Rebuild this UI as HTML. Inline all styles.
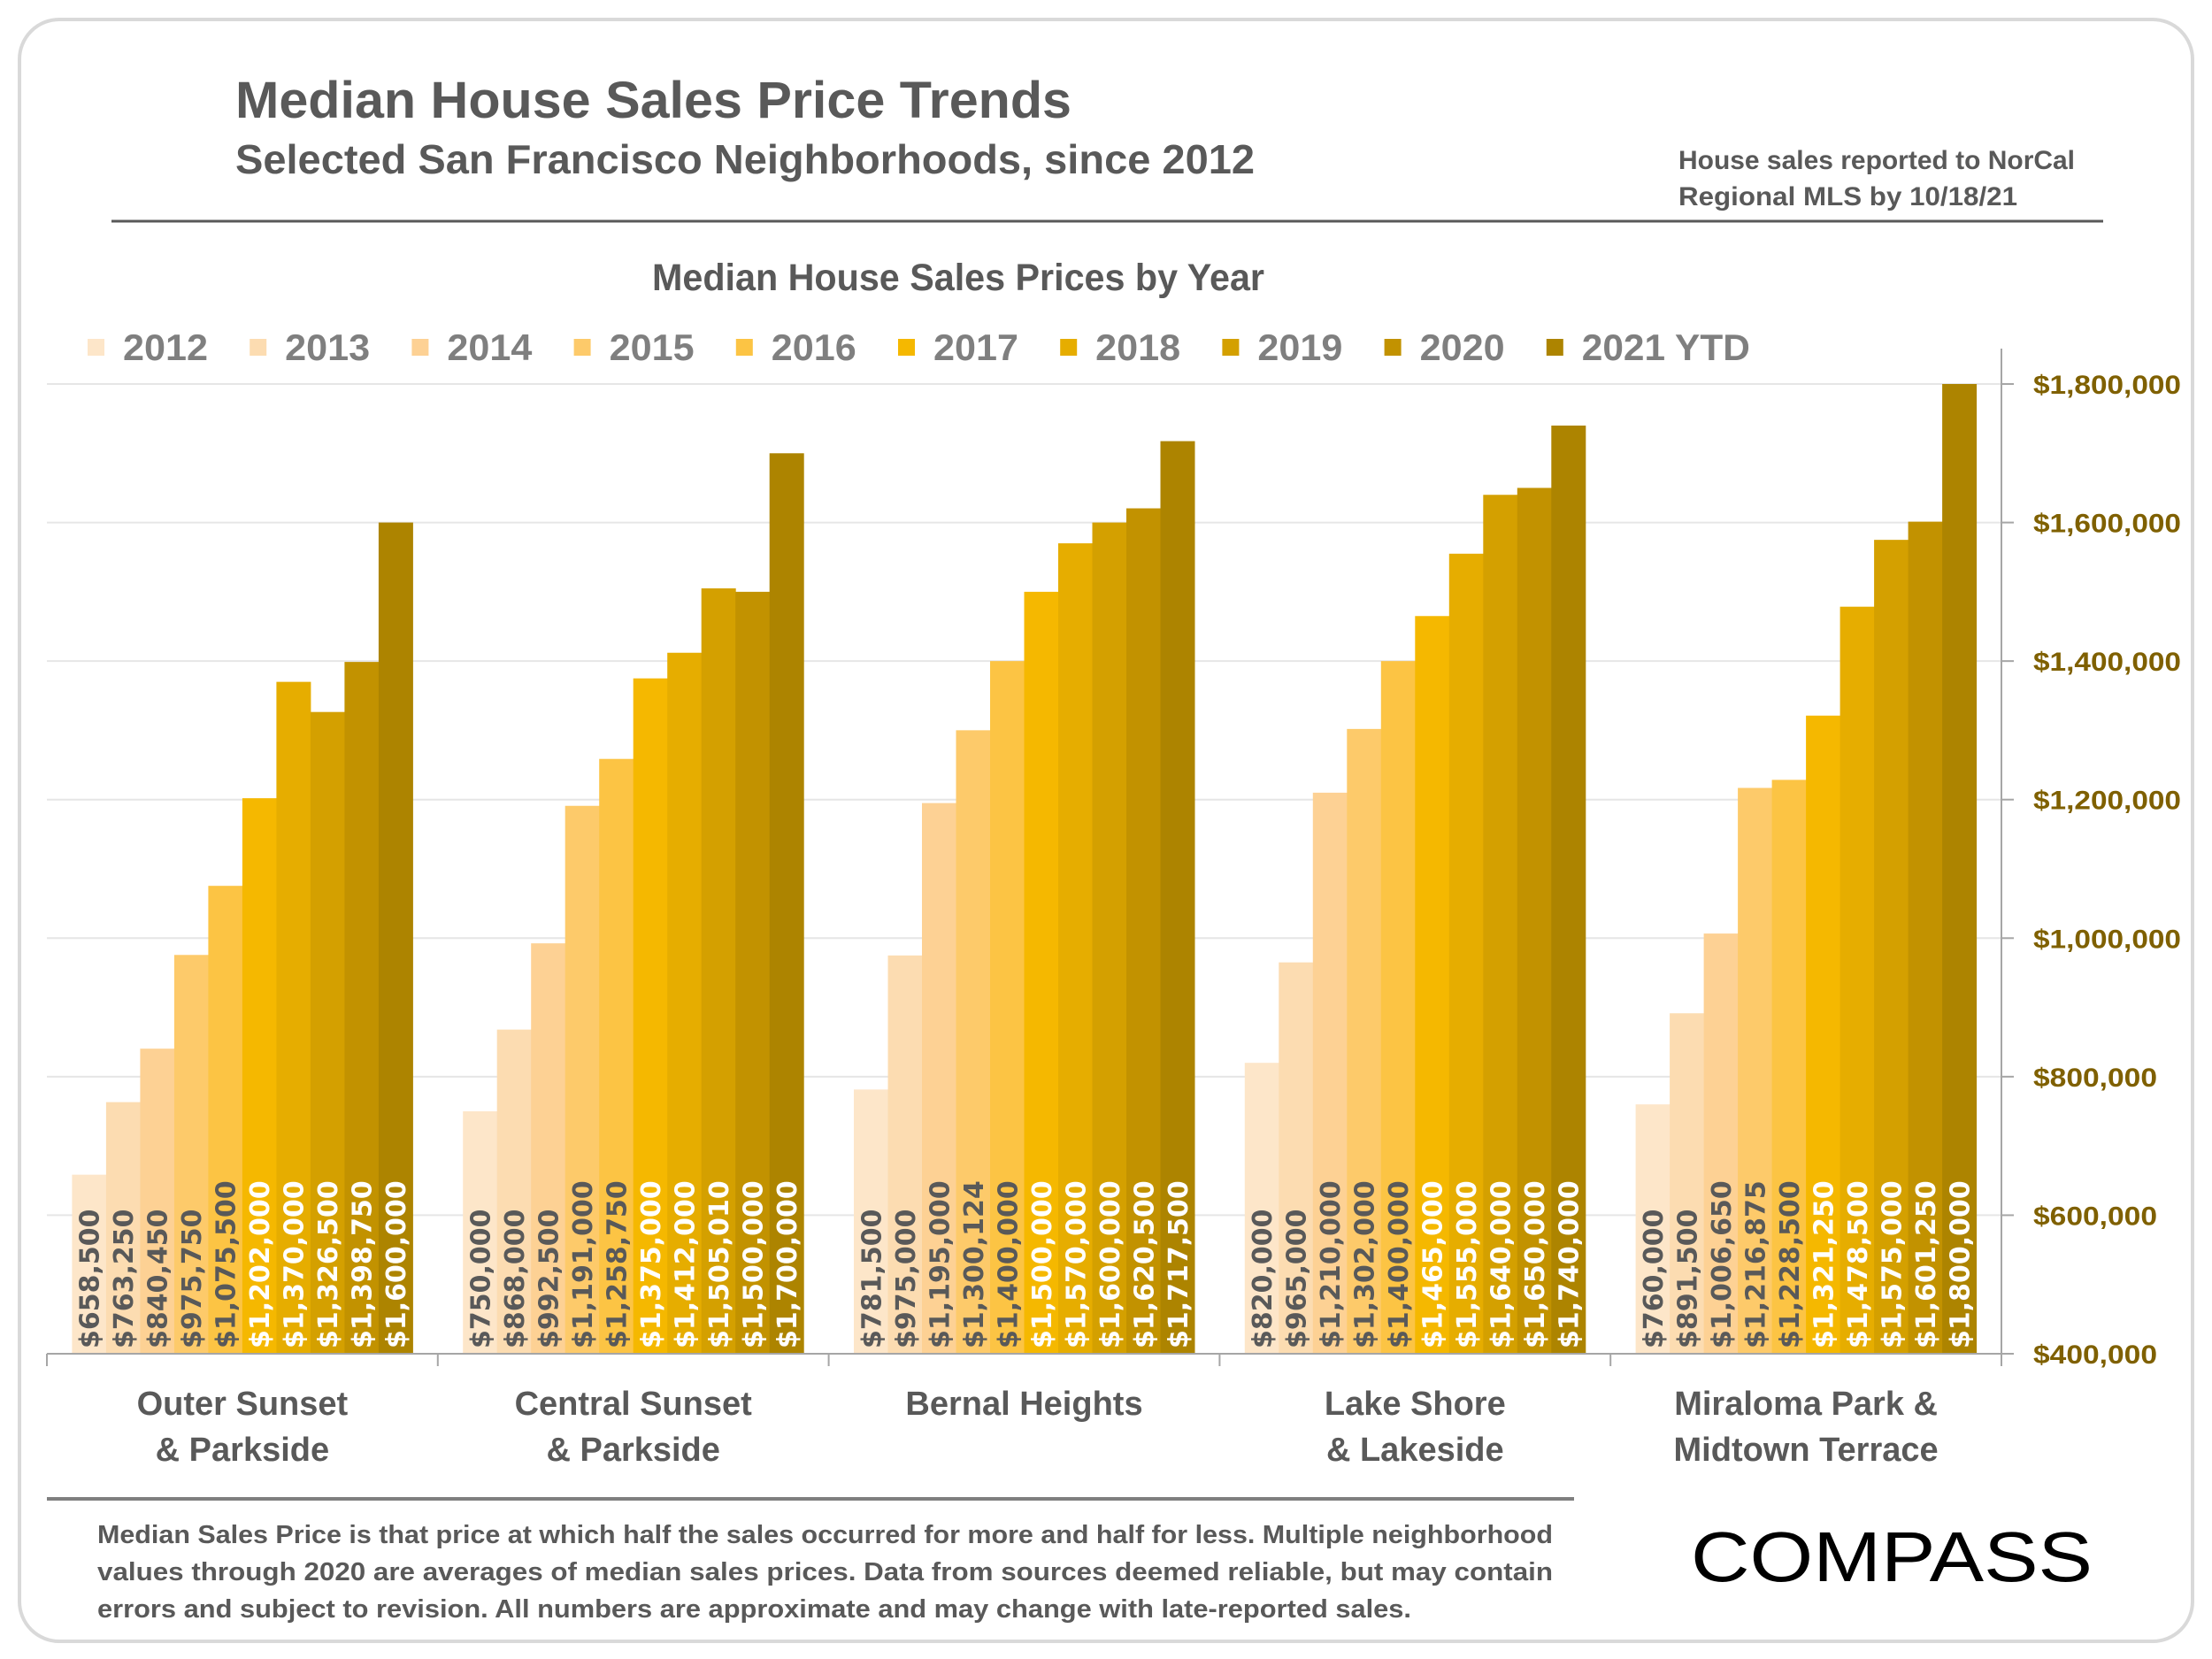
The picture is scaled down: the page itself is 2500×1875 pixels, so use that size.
<!DOCTYPE html>
<html><head><meta charset="utf-8"><style>
html,body{margin:0;padding:0;background:#fff;}
svg{display:block;}
text{font-family:"Liberation Sans",sans-serif;}
</style></head><body>
<svg id="chart" width="2500" height="1875" viewBox="0 0 2500 1875" xmlns="http://www.w3.org/2000/svg">
<rect x="22" y="22" width="2456" height="1833" rx="45" fill="#fff" stroke="#d9d9d9" stroke-width="4"/>
<text x="266" y="133" font-size="58" font-weight="bold" fill="#595959" textLength="945" lengthAdjust="spacingAndGlyphs">Median House Sales Price Trends</text>
<text x="266" y="196" font-size="46" font-weight="bold" fill="#595959" textLength="1152" lengthAdjust="spacingAndGlyphs">Selected San Francisco Neighborhoods, since 2012</text>
<text x="1897" y="191" font-size="30" font-weight="bold" fill="#595959" textLength="448" lengthAdjust="spacingAndGlyphs">House sales reported to NorCal</text>
<text x="1897" y="232" font-size="30" font-weight="bold" fill="#595959" textLength="383" lengthAdjust="spacingAndGlyphs">Regional MLS by 10/18/21</text>
<line x1="126" y1="250" x2="2377" y2="250" stroke="#595959" stroke-width="3"/>
<text x="1083" y="328" text-anchor="middle" font-size="43" font-weight="bold" fill="#595959" textLength="692" lengthAdjust="spacingAndGlyphs">Median House Sales Prices by Year</text>
<g id="grid"></g>
<g id="bars"></g>
<g id="axes"></g>
<g id="legend"></g>
<line x1="53" y1="1694" x2="1779" y2="1694" stroke="#7f7f7f" stroke-width="4"/>
<text x="110" y="1744" font-size="29" font-weight="bold" fill="#595959" textLength="1645" lengthAdjust="spacingAndGlyphs">Median Sales Price is that price at which half the sales occurred for more and half for less. Multiple neighborhood</text>
<text x="110" y="1786" font-size="29" font-weight="bold" fill="#595959" textLength="1645" lengthAdjust="spacingAndGlyphs">values through 2020 are averages of median sales prices. Data from sources deemed reliable, but may contain</text>
<text x="110" y="1828" font-size="29" font-weight="bold" fill="#595959" textLength="1485" lengthAdjust="spacingAndGlyphs">errors and subject to revision.  All numbers are approximate and may change with late-reported sales.</text>
<text x="1911" y="1787" font-size="80" fill="#000" textLength="454" lengthAdjust="spacingAndGlyphs">COMPASS</text>
</svg>
<script>
const categories = [["Outer Sunset","& Parkside"],["Central Sunset","& Parkside"],["Bernal Heights"],["Lake Shore","& Lakeside"],["Miraloma Park &","Midtown Terrace"]];
const years = ["2012","2013","2014","2015","2016","2017","2018","2019","2020","2021 YTD"];
const outerSunset = [658500,763250,840450,975750,1075500,1202000,1370000,1326500,1398750,1600000];
const centralSunset = [750000,868000,992500,1191000,1258750,1375000,1412000,1505010,1500000,1700000];
const bernalHeights = [781500,975000,1195000,1300124,1400000,1500000,1570000,1600000,1620500,1717500];
const lakeShore = [820000,965000,1210000,1302000,1400000,1465000,1555000,1640000,1650000,1740000];
const miraloma = [760000,891500,1006650,1216875,1228500,1321250,1478500,1575000,1601250,1800000];
const yTicks = [400000,600000,800000,1000000,1200000,1400000,1600000,1800000];
const yTickLabels = ["$400,000","$600,000","$800,000","$1,000,000","$1,200,000","$1,400,000","$1,600,000","$1,800,000"];

const series = [outerSunset, centralSunset, bernalHeights, lakeShore, miraloma];
const colors = ["#fde6c9","#fcdcb1","#fdd194","#fdca6a","#fcc444","#f5b800","#e6ad00","#d4a000","#c29200","#ad8400"];
const NS = "http://www.w3.org/2000/svg";
const plotL = 53, plotR = 2262, baseY = 1530, topY = 434;
const yMin = 400000, yMax = 1800000;
const groupW = (plotR - plotL) / categories.length;
const barW = 38.5;
function yScale(v){ return baseY - (v - yMin) / (yMax - yMin) * (baseY - topY); }
function xGroup(i){ return plotL + i * groupW; }
function mk(tag, attrs, parent){ const e = document.createElementNS(NS, tag); for (const k in attrs) e.setAttribute(k, attrs[k]); parent.appendChild(e); return e; }
const fmt = v => "$" + v.toLocaleString("en-US");

const grid = document.getElementById("grid");
const axes = document.getElementById("axes");
const bars = document.getElementById("bars");
const legend = document.getElementById("legend");

yTicks.forEach((t, i) => {
  const y = yScale(t);
  if (i > 0) {
    const g = mk("line", {x1: plotL, x2: plotR, y1: y, y2: y, stroke: "#e6e6e6", "stroke-width": 2}, grid);
    
    
  }
  const tk = mk("line", {x1: plotR, x2: plotR + 14, y1: y, y2: y, stroke: "#a6a6a6", "stroke-width": 2}, axes);
  
  
  const lb = mk("text", {x: 2298, y: y + 11, "font-size": 30, "font-weight": "bold", fill: "#7f6000", textLength: (yTickLabels[i].length >= 10 ? 167 : 140), lengthAdjust: "spacingAndGlyphs"}, axes);
  lb.textContent = yTickLabels[i];
  
  
});
const ya = mk("line", {x1: plotR, x2: plotR, y1: 394, y2: baseY, stroke: "#a6a6a6", "stroke-width": 2}, axes);


const xa = mk("line", {x1: plotL, x2: plotR, y1: baseY, y2: baseY, stroke: "#a6a6a6", "stroke-width": 2}, axes);


for (let i = 0; i <= categories.length; i++) {
  const t = mk("line", {x1: xGroup(i), x2: xGroup(i), y1: baseY, y2: baseY + 14, stroke: "#a6a6a6", "stroke-width": 2}, axes);
  
  
}

series.forEach((vals, gi) => {
  const x0 = xGroup(gi) + (groupW - barW * vals.length) / 2;
  vals.forEach((v, bi) => {
    const x = x0 + bi * barW;
    const y = yScale(v);
    const r = mk("rect", {x: x, y: y, width: barW + 0.5, height: baseY - y, fill: colors[bi]}, bars);
    
    
    const cx = x + barW / 2 + 11;
    const t = mk("text", {x: cx, y: 1524, transform: `rotate(-90 ${cx} 1524)`, "font-size": 30, "font-weight": "bold", fill: bi >= 5 ? "#ffffff" : "#595959", style: 'font-family:"DejaVu Sans",sans-serif'}, bars);
    t.textContent = fmt(v);
    
    
  });
  const cxg = xGroup(gi) + groupW / 2;
  categories[gi].forEach((line, li) => {
    const c = mk("text", {x: cxg, y: 1599 + li * 52, "text-anchor": "middle", "font-size": 38, "font-weight": "bold", fill: "#595959"}, axes);
    c.textContent = line;
    
    
  });
});

years.forEach((yr, i) => {
  const lx = 99 + i * 183.2;
  const s = mk("rect", {x: lx, y: 383, width: 19, height: 19, fill: colors[i]}, legend);
  
  
  const t = mk("text", {x: lx + 40, y: 407, "font-size": 42, "font-weight": "bold", fill: "#7f7f7f", textLength: yr.length > 4 ? 190 : 96, lengthAdjust: "spacingAndGlyphs"}, legend);
  t.textContent = yr;
  
  
});
</script>
</body></html>
